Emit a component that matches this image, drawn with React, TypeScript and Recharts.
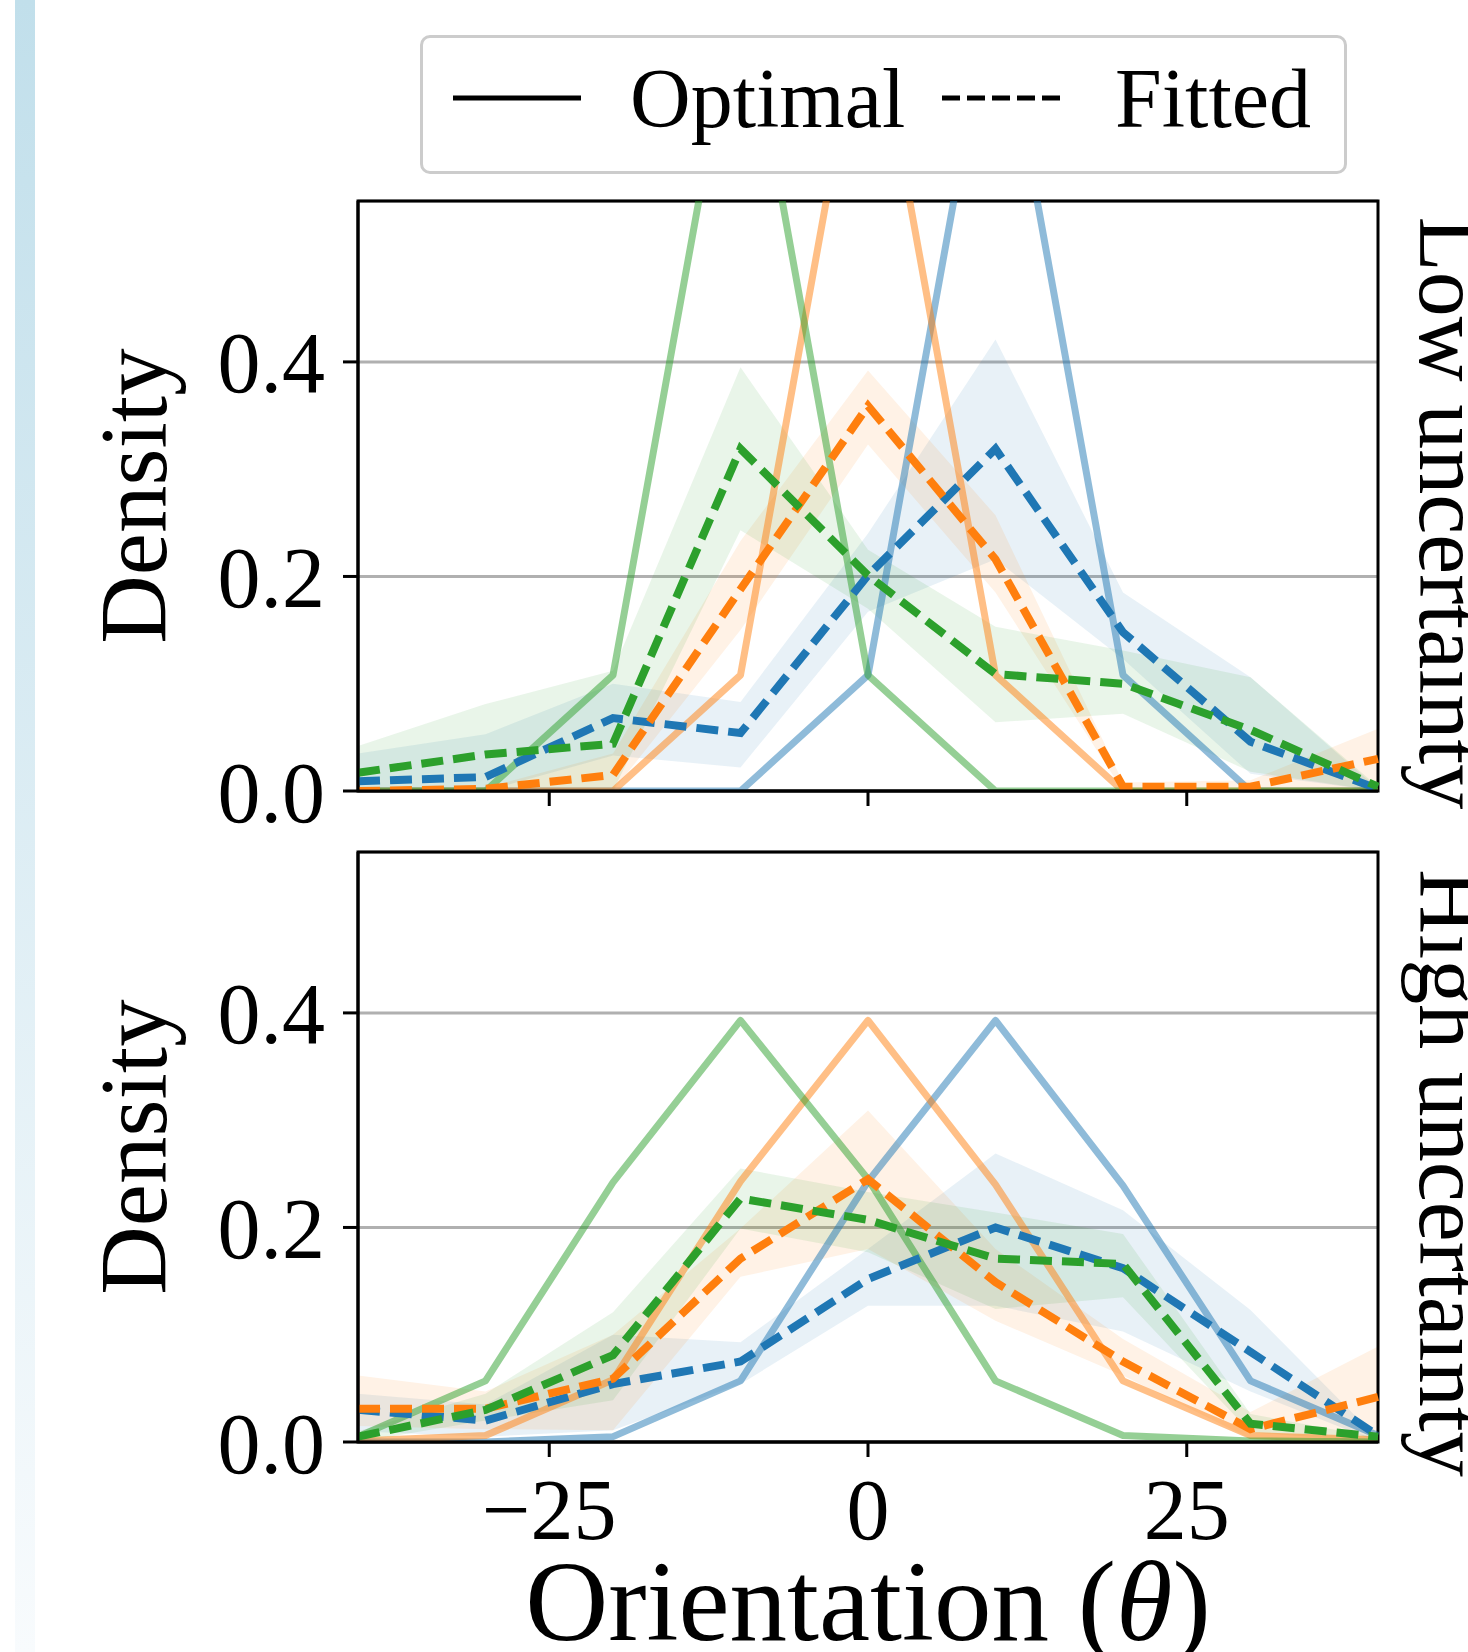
import React from 'react';
import { ComposedChart, Line, Area, XAxis, YAxis, CartesianGrid, ReferenceArea } from 'recharts';

const theta = [-40, -30, -20, -10, 0, 10, 20, 30, 40];
const xTicks = [-25, 0, 25];
const yTicks = [0, 0.2, 0.4];

// Low uncertainty panel
const lowOptimalBlue = [0, 0, 0, 0, 0.108, 0.765, 0.108, 0, 0];
const lowOptimalOrange = [0, 0, 0, 0.108, 0.765, 0.108, 0, 0, 0];
const lowOptimalGreen = [0, 0, 0.108, 0.765, 0.108, 0, 0, 0, 0];
const lowFittedBlue = [0.009, 0.013, 0.068, 0.054, 0.201, 0.319, 0.148, 0.046, 0.002];
const lowFittedOrange = [0, 0.002, 0.015, 0.188, 0.359, 0.216, 0.004, 0.004, 0.03];
const lowFittedGreen = [0.017, 0.034, 0.044, 0.319, 0.201, 0.109, 0.1, 0.057, 0.004];
const lowBlueLo = [0, 0, 0.033, 0.022, 0.167, 0.216, 0.123, 0.016, 0];
const lowBlueHi = [0.035, 0.053, 0.1, 0.083, 0.24, 0.421, 0.185, 0.106, 0.002];
const lowOrangeLo = [0, 0, 0, 0.15, 0.323, 0.185, 0, 0, 0];
const lowOrangeHi = [0, 0.003, 0.035, 0.233, 0.392, 0.257, 0.008, 0.01, 0.058];
const lowGreenLo = [0, 0, 0, 0.243, 0.17, 0.064, 0.072, 0.018, 0];
const lowGreenHi = [0.042, 0.081, 0.112, 0.395, 0.225, 0.153, 0.131, 0.106, 0.004];

// High uncertainty panel
const highOptimalBlue = [0, 0, 0.005, 0.057, 0.243, 0.393, 0.239, 0.057, 0.006];
const highOptimalOrange = [0.001, 0.006, 0.058, 0.243, 0.393, 0.24, 0.057, 0.006, 0.002];
const highOptimalGreen = [0.005, 0.057, 0.242, 0.393, 0.245, 0.057, 0.006, 0.001, 0];
const highFittedBlue = [0.03, 0.02, 0.054, 0.075, 0.152, 0.2, 0.162, 0.084, 0.006];
const highFittedOrange = [0.031, 0.031, 0.059, 0.171, 0.245, 0.149, 0.075, 0.012, 0.042];
const highFittedGreen = [0.005, 0.03, 0.081, 0.227, 0.207, 0.171, 0.166, 0.017, 0.005];
const highBlueLo = [0.01, 0.005, 0.011, 0.054, 0.127, 0.127, 0.103, 0.047, 0];
const highBlueHi = [0.045, 0.035, 0.1, 0.093, 0.18, 0.269, 0.216, 0.123, 0.003];
const highOrangeLo = [0.015, 0.012, 0.011, 0.154, 0.18, 0.113, 0.062, 0.003, 0.003];
const highOrangeHi = [0.062, 0.047, 0.1, 0.199, 0.309, 0.18, 0.096, 0.028, 0.089];
const highGreenLo = [0, 0.02, 0.039, 0.199, 0.177, 0.124, 0.135, 0.009, 0];
const highGreenHi = [0.01, 0.045, 0.121, 0.255, 0.233, 0.214, 0.194, 0.026, 0.004];

const BLUE = '#1f77b4';
const ORANGE = '#ff7f0e';
const GREEN = '#2ca02c';
const FONT = '"Liberation Serif", "DejaVu Serif", serif';

const lowRows = theta.map((x, i) => ({
  x,
  optBlue: lowOptimalBlue[i],
  optOrange: lowOptimalOrange[i],
  optGreen: lowOptimalGreen[i],
  fitBlue: lowFittedBlue[i],
  fitOrange: lowFittedOrange[i],
  fitGreen: lowFittedGreen[i],
  bandBlue: [lowBlueLo[i], lowBlueHi[i]],
  bandOrange: [lowOrangeLo[i], lowOrangeHi[i]],
  bandGreen: [lowGreenLo[i], lowGreenHi[i]],
}));

const highRows = theta.map((x, i) => ({
  x,
  optBlue: highOptimalBlue[i],
  optOrange: highOptimalOrange[i],
  optGreen: highOptimalGreen[i],
  fitBlue: highFittedBlue[i],
  fitOrange: highFittedOrange[i],
  fitGreen: highFittedGreen[i],
  bandBlue: [highBlueLo[i], highBlueHi[i]],
  bandOrange: [highOrangeLo[i], highOrangeHi[i]],
  bandGreen: [highGreenLo[i], highGreenHi[i]],
}));

const colors: [string, string][] = [
  ['Blue', BLUE],
  ['Orange', ORANGE],
  ['Green', GREEN],
];

const fmtX = (v: number) => (v < 0 ? '\u2212' + Math.abs(v) : String(v));
const axisStroke = { stroke: '#000', strokeWidth: 3 };
const tickFont = { fill: '#000', fontSize: 86, fontFamily: FONT };

interface PanelProps {
  rows: typeof lowRows;
  top: number;
  height: number;
  marginTop: number;
  xAxisHeight: number;
  showXLabels: boolean;
  densityY: number;
  sideText: string;
  sideY: number;
}

const Panel = ({ rows, top, height, marginTop, xAxisHeight, showXLabels, densityY, sideText, sideY }: PanelProps) => {
  const sideLabels = () => (
    <g>
      <text
        x={166}
        y={densityY}
        transform={`rotate(-90, 166, ${densityY})`}
        textAnchor="middle"
        fontFamily={FONT}
        fontSize={95}
        fill="#000"
      >
        Density
      </text>
      <text
        x={1420}
        y={sideY}
        transform={`rotate(90, 1420, ${sideY})`}
        textAnchor="middle"
        fontFamily={FONT}
        fontSize={90}
        fill="#000"
      >
        {sideText}
      </text>
    </g>
  );

  const xLabel = () => (
    <text x={868} y={840} textAnchor="middle" fontFamily={FONT} fontSize={115} fill="#000">
      Orientation (<tspan fontStyle="italic">θ</tspan>)
    </text>
  );

  return (
    <div style={{ position: 'absolute', left: 0, top }}>
      <ComposedChart width={1468} height={height} data={rows} margin={{ top: marginTop, right: 90, bottom: 0, left: 0 }}>
        <CartesianGrid vertical={false} stroke="#b0b0b0" strokeWidth={3} />
        <XAxis
          dataKey="x"
          type="number"
          domain={[-40, 40]}
          ticks={xTicks}
          interval={0}
          height={xAxisHeight}
          axisLine={axisStroke}
          tickLine={axisStroke}
          tickSize={15}
          tickMargin={21}
          tick={showXLabels ? tickFont : () => <g />}
          tickFormatter={fmtX}
          label={showXLabels ? xLabel : undefined}
        />
        <YAxis
          type="number"
          domain={[0, 0.55]}
          ticks={yTicks}
          interval={0}
          allowDataOverflow
          width={358}
          axisLine={axisStroke}
          tickLine={axisStroke}
          tickSize={15}
          tickMargin={18}
          tick={tickFont}
          tickFormatter={(v: number) => v.toFixed(1)}
          label={sideLabels}
        />
        {colors.map(([k, c]) => (
          <Area
            key={'band' + k}
            type="linear"
            dataKey={'band' + k}
            stroke="none"
            fill={c}
            fillOpacity={0.1}
            isAnimationActive={false}
          />
        ))}
        {colors.map(([k, c]) => (
          <Line
            key={'opt' + k}
            type="linear"
            dataKey={'opt' + k}
            stroke={c}
            strokeOpacity={0.5}
            strokeWidth={7}
            strokeLinejoin="round"
            dot={false}
            activeDot={false}
            isAnimationActive={false}
          />
        ))}
        {colors.map(([k, c]) => (
          <Line
            key={'fit' + k}
            type="linear"
            dataKey={'fit' + k}
            stroke={c}
            strokeWidth={8}
            strokeDasharray="22 10"
            dot={false}
            activeDot={false}
            isAnimationActive={false}
          />
        ))}
        <ReferenceArea x1={-40} x2={40} y1={0} y2={0.55} fill="none" stroke="#000" strokeWidth={3} ifOverflow="visible" />
      </ComposedChart>
    </div>
  );
};

const LegendBox = () => (
  <div
    style={{
      position: 'absolute',
      left: 420,
      top: 35,
      width: 921,
      height: 133,
      border: '3px solid #cccccc',
      borderRadius: 10,
      background: '#fff',
    }}
  >
    <svg width={921} height={133} style={{ position: 'absolute', left: 0, top: 0 }}>
      <line x1={30} x2={158} y1={60} y2={60} stroke="#000" strokeWidth={5} />
      <text x={207} y={89} fontFamily={FONT} fontSize={84} fill="#000">
        Optimal
      </text>
      <line x1={519} x2={641} y1={60} y2={60} stroke="#000" strokeWidth={5} strokeDasharray="18 7" />
      <text x={692} y={89} fontFamily={FONT} fontSize={84} fill="#000">
        Fitted
      </text>
    </svg>
  </div>
);

export default function App() {
  return (
    <div
      style={{
        position: 'absolute',
        left: 0,
        top: 0,
        width: 1468,
        height: 1652,
        overflow: 'hidden',
        background: '#fff',
      }}
    >
      <div
        style={{
          position: 'absolute',
          left: 15,
          top: 0,
          width: 20,
          height: 1652,
          background: 'linear-gradient(to bottom, #c1dfeb, #f8fbfd)',
        }}
      />
      <Panel
        rows={lowRows}
        top={0}
        height={840}
        marginTop={201}
        xAxisHeight={49}
        showXLabels={false}
        densityY={496}
        sideText="Low uncertainty"
        sideY={513}
      />
      <Panel
        rows={highRows}
        top={800}
        height={852}
        marginTop={52}
        xAxisHeight={210}
        showXLabels={true}
        densityY={347}
        sideText="High uncertainty"
        sideY={373}
      />
      <LegendBox />
    </div>
  );
}
